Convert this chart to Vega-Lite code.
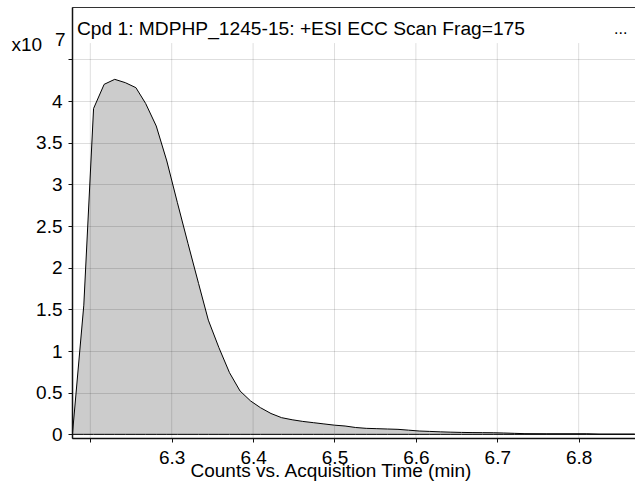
{
  "$schema": "https://vega.github.io/schema/vega-lite/v6.json",
  "width": 563,
  "height": 431,
  "autosize": {"type": "none"},
  "padding": {"left": 72, "top": 7, "right": 0, "bottom": 43},
  "background": "white",
  "config": {
    "font": "Liberation Sans",
    "view": {"stroke": "#333333", "strokeWidth": 1},
    "axis": {
      "labelFont": "Liberation Sans",
      "titleFont": "Liberation Sans",
      "labelFontSize": 19,
      "titleFontSize": 19,
      "titleFontWeight": "normal",
      "labelColor": "black",
      "titleColor": "black",
      "domainColor": "#111111",
      "domainWidth": 1.5,
      "tickColor": "#111111",
      "tickSize": 4,
      "labelPadding": 6
    }
  },
  "title": {
    "text": "Cpd 1: MDPHP_1245-15: +ESI ECC Scan Frag=175",
    "anchor": "start",
    "frame": "group",
    "orient": "top",
    "offset": 0,
    "baseline": "alphabetic",
    "dx": 5,
    "dy": 47,
    "font": "Liberation Sans",
    "fontSize": 19.2,
    "fontWeight": "normal",
    "color": "black"
  },
  "datasets": {
    "eic": [
      {"time": 6.178, "counts": 0},
      {"time": 6.192, "counts": 1.55},
      {"time": 6.204, "counts": 3.91},
      {"time": 6.217, "counts": 4.2},
      {"time": 6.23, "counts": 4.26},
      {"time": 6.243, "counts": 4.22},
      {"time": 6.256, "counts": 4.16},
      {"time": 6.268, "counts": 3.97},
      {"time": 6.281, "counts": 3.7},
      {"time": 6.294, "counts": 3.28},
      {"time": 6.307, "counts": 2.78},
      {"time": 6.32, "counts": 2.29},
      {"time": 6.333, "counts": 1.81},
      {"time": 6.345, "counts": 1.37},
      {"time": 6.358, "counts": 1.04},
      {"time": 6.371, "counts": 0.74},
      {"time": 6.384, "counts": 0.52},
      {"time": 6.397, "counts": 0.4},
      {"time": 6.409, "counts": 0.32},
      {"time": 6.422, "counts": 0.25},
      {"time": 6.435, "counts": 0.2},
      {"time": 6.448, "counts": 0.175},
      {"time": 6.461, "counts": 0.155},
      {"time": 6.474, "counts": 0.14},
      {"time": 6.487, "counts": 0.125},
      {"time": 6.5, "counts": 0.11},
      {"time": 6.513, "counts": 0.1},
      {"time": 6.526, "counts": 0.082},
      {"time": 6.539, "counts": 0.072},
      {"time": 6.552, "counts": 0.068},
      {"time": 6.565, "counts": 0.064},
      {"time": 6.578, "counts": 0.06},
      {"time": 6.591, "counts": 0.05},
      {"time": 6.604, "counts": 0.04},
      {"time": 6.617, "counts": 0.035},
      {"time": 6.63, "counts": 0.03},
      {"time": 6.643, "counts": 0.026},
      {"time": 6.656, "counts": 0.023},
      {"time": 6.669, "counts": 0.021},
      {"time": 6.682, "counts": 0.02},
      {"time": 6.695, "counts": 0.019},
      {"time": 6.708, "counts": 0.016},
      {"time": 6.721, "counts": 0.012},
      {"time": 6.734, "counts": 0.008},
      {"time": 6.76, "counts": 0.007},
      {"time": 6.81, "counts": 0.007},
      {"time": 6.825, "counts": 0.003},
      {"time": 6.869, "counts": 0.003}
    ],
    "xgrid": [
      {"tick": 6.2}, {"tick": 6.3}, {"tick": 6.4}, {"tick": 6.5},
      {"tick": 6.6}, {"tick": 6.7}, {"tick": 6.8}
    ]
  },
  "layer": [
    {
      "data": {"name": "eic"},
      "mark": {"type": "area", "fill": "#cccccc", "stroke": "black", "strokeWidth": 1, "interpolate": "linear", "clip": true},
      "encoding": {
        "x": {
          "field": "time",
          "type": "quantitative",
          "scale": {"domain": [6.1775, 6.8692], "nice": false, "zero": false},
          "axis": {
            "values": [6.2, 6.3, 6.4, 6.5, 6.6, 6.7, 6.8],
            "labelExpr": "datum.value < 6.25 ? '' : format(datum.value, '.1f')",
            "grid": false,
            "zindex": 1,
            "title": "Counts vs. Acquisition Time (min)",
            "titleAnchor": "start",
            "titleX": 118,
            "titleY": 38,
            "titleBaseline": "alphabetic",
            "labelPadding": 6
          }
        },
        "y": {
          "field": "counts",
          "type": "quantitative",
          "scale": {"domain": [-0.044, 5.128], "nice": false, "zero": false},
          "axis": {
            "values": [0, 0.5, 1, 1.5, 2, 2.5, 3, 3.5, 4, 4.5],
            "labelExpr": "datum.value == 4.5 ? '' : format(datum.value, '~g')",
            "grid": true,
            "gridColor": "black",
            "gridOpacity": 0.13,
            "gridWidth": 1,
            "zindex": 1,
            "title": "x10",
            "titleAngle": 0,
            "titleAlign": "left",
            "titleBaseline": "alphabetic",
            "titleX": -61,
            "titleY": 43
          }
        }
      }
    },
    {
      "data": {"name": "xgrid"},
      "mark": {"type": "rule", "color": "black", "opacity": 0.13, "strokeWidth": 1},
      "encoding": {
        "x": {"field": "tick", "type": "quantitative"},
        "y": {"datum": -0.044},
        "y2": {"datum": 4.695}
      }
    },
    {
      "data": {"values": [{"note": "exponent"}]},
      "mark": {"type": "text", "text": "7", "align": "left", "baseline": "alphabetic", "fontSize": 19, "font": "Liberation Sans", "color": "black", "dx": -17, "clip": false},
      "encoding": {
        "x": {"datum": 6.1775},
        "y": {"datum": 4.66}
      }
    },
    {
      "data": {"values": [{"note": "more"}]},
      "mark": {"type": "text", "text": "...", "align": "left", "baseline": "alphabetic", "fontSize": 16, "font": "Liberation Sans", "color": "black"},
      "encoding": {
        "x": {"datum": 6.8434},
        "y": {"datum": 4.8}
      }
    }
  ]
}
